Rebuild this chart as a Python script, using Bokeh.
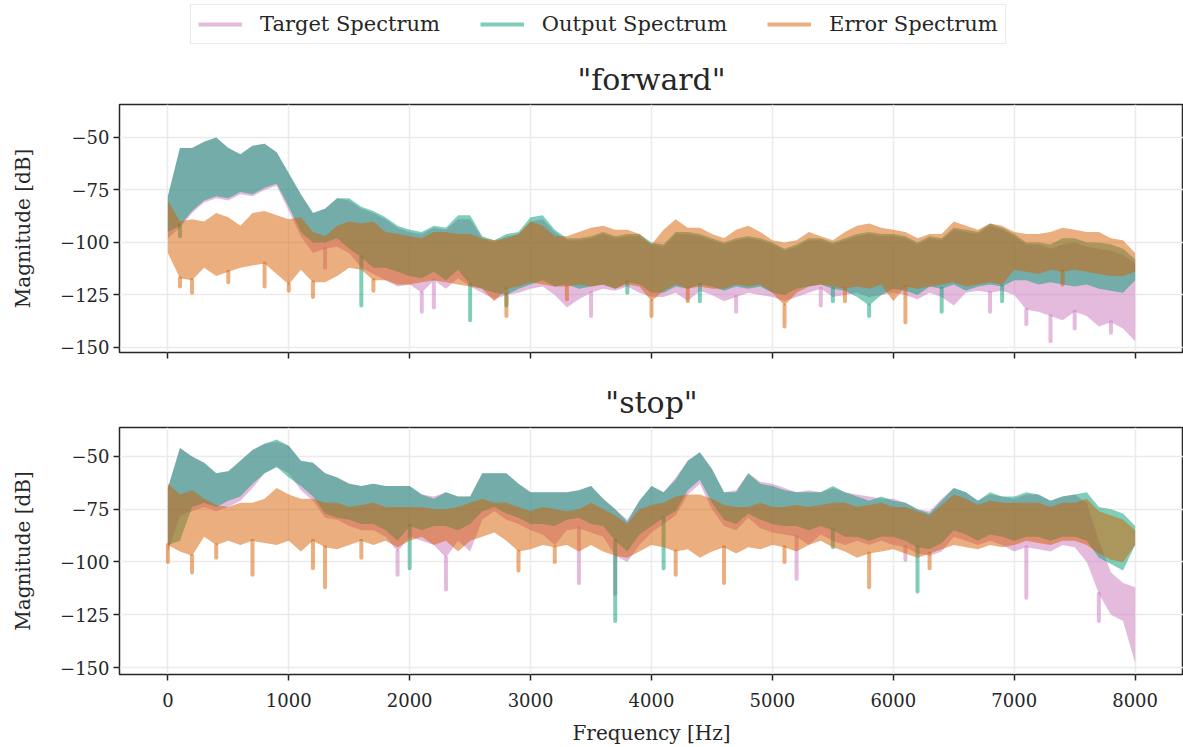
from bokeh.plotting import figure
from bokeh.layouts import column
from bokeh.models import (Legend, LegendItem, CustomJSTickFormatter, FixedTicker,
                          Range1d)
from bokeh.embed import file_html
from bokeh.resources import INLINE

# ---------------- data (100 Hz steps) ----------------
freq_hz = list(range(0, 8001, 100))

series_names = ["Target Spectrum", "Output Spectrum", "Error Spectrum"]
x_ticks = [0, 1000, 2000, 3000, 4000, 5000, 6000, 7000, 8000]
y_ticks = [-150, -125, -100, -75, -50]

# "forward" panel: upper / lower envelopes of each spectrum (dB)
fwd_target_hi = [-78, -55, -55, -52, -50, -55, -58, -54, -53, -57,
                 -67, -77, -86, -84, -79, -80, -84, -86, -89, -93,
                 -95, -96, -93, -94, -89, -89, -98, -100, -97, -96,
                 -90, -89, -95, -99, -99, -98, -96, -98, -97, -97,
                 -101, -102, -96, -96, -97, -99, -101, -99, -98, -99,
                 -101, -104, -102, -99, -99, -101, -99, -97, -96, -97,
                 -97, -98, -101, -98, -99, -94, -95, -96, -92, -94,
                 -97, -101, -101, -103, -101, -100, -102, -103, -104, -106,
                 -110]
fwd_target_lo = [-98, -93, -86, -81, -79, -80, -77, -78, -75, -73,
                 -85, -97, -105, -103, -102, -105, -112, -115, -118, -121,
                 -120, -124, -118, -122, -117, -121, -124, -127, -125, -124,
                 -122, -121, -125, -131, -127, -124, -122, -123, -121, -124,
                 -126, -126, -124, -128, -123, -125, -128, -126, -124, -125,
                 -126, -128, -126, -124, -122, -126, -125, -124, -126, -125,
                 -124, -125, -127, -124, -126, -130, -124, -123, -124, -123,
                 -125, -132, -133, -135, -137, -133, -135, -140, -138, -141,
                 -147]
fwd_output_hi = [-78, -55, -55, -52, -50, -55, -58, -54, -53, -57,
                 -67, -77, -86, -84, -79, -79, -83, -85, -88, -92,
                 -94, -95, -92, -93, -87, -87, -97, -99, -96, -95,
                 -88, -87, -94, -98, -98, -97, -95, -97, -96, -96,
                 -100, -101, -95, -95, -96, -98, -100, -98, -97, -98,
                 -100, -103, -101, -98, -98, -100, -98, -96, -95, -96,
                 -96, -97, -100, -97, -98, -93, -94, -95, -91, -93,
                 -96, -100, -100, -101, -98, -98, -100, -100, -101, -103,
                 -108]
fwd_output_lo = [-95, -92, -85, -80, -78, -79, -76, -77, -74, -72,
                 -83, -95, -100, -100, -98, -103, -107, -112, -112, -114,
                 -116, -117, -114, -118, -113, -120, -122, -124, -125, -122,
                 -120, -118, -121, -120, -122, -121, -120, -122, -119, -120,
                 -124, -124, -121, -122, -120, -121, -123, -121, -122, -121,
                 -124, -125, -122, -121, -120, -122, -123, -126, -130, -125,
                 -122, -123, -125, -121, -122, -120, -123, -121, -120, -121,
                 -118, -118, -120, -119, -120, -121, -120, -122, -123, -124,
                 -118]
fwd_error_hi = [-80, -90, -89, -90, -86, -88, -92, -86, -85, -87,
                -89, -88, -95, -97, -92, -90, -91, -90, -95, -96,
                -97, -98, -95, -95, -96, -96, -98, -99, -98, -96,
                -90, -92, -97, -97, -95, -93, -92, -94, -94, -96,
                -101, -94, -89, -93, -93, -96, -98, -94, -92, -95,
                -99, -100, -99, -95, -97, -99, -95, -92, -91, -93,
                -94, -95, -98, -96, -96, -90, -92, -94, -91, -92,
                -95, -96, -96, -95, -93, -94, -95, -95, -98, -99,
                -105]
fwd_error_lo = [-105, -117, -118, -112, -116, -114, -112, -111, -110, -115,
                -120, -113, -119, -119, -116, -112, -113, -118, -118, -120,
                -120, -119, -118, -119, -120, -121, -122, -128, -122, -121,
                -119, -120, -121, -121, -120, -121, -120, -122, -120, -121,
                -128, -123, -120, -122, -121, -122, -122, -120, -121, -120,
                -124, -130, -124, -121, -120, -121, -122, -121, -122, -120,
                -128, -121, -122, -121, -120, -119, -121, -120, -119, -120,
                -113, -114, -115, -113, -114, -113, -114, -115, -116, -116,
                -114]

# narrow deep dips below the envelopes (frequency, dB)
fwd_target_dip_hz = [1300, 2100, 2200, 3500, 4700, 5400, 6800, 7100, 7300, 7500, 7800]
fwd_target_dip_db = [-112, -133, -131, -135, -133, -130, -133, -139, -147, -141, -143]
fwd_output_dip_hz = [100, 1600, 2500, 2800, 3800, 4400, 5500, 5800, 6400, 6900]
fwd_output_dip_db = [-97, -130, -137, -130, -124, -128, -128, -135, -133, -128]
fwd_error_dip_hz = [100, 200, 500, 800, 1000, 1200, 1700, 2800, 3300, 4000,
                    4300, 5100, 5600, 6100, 7400]
fwd_error_dip_db = [-121, -124, -119, -121, -123, -126, -123, -135, -127, -135,
                    -128, -140, -128, -138, -120]

# "stop" panel
stop_target_hi = [-65, -46, -50, -53, -58, -57, -52, -47, -44, -43,
                  -45, -52, -53, -58, -60, -63, -64, -63, -64, -64,
                  -64, -68, -69, -67, -69, -69, -58, -58, -58, -63,
                  -67, -67, -67, -67, -66, -64, -70, -75, -80, -71,
                  -64, -67, -60, -52, -48, -56, -67, -66, -58, -62,
                  -63, -65, -67, -66, -67, -65, -67, -68, -69, -70,
                  -70, -72, -75, -76, -70, -65, -67, -71, -68, -69,
                  -70, -68, -68, -71, -69, -68, -72, -90, -105, -110,
                  -112]
stop_target_lo = [-95, -78, -76, -74, -76, -74, -71, -65, -58, -55,
                  -58, -66, -71, -79, -80, -83, -85, -85, -88, -95,
                  -88, -90, -92, -98, -90, -95, -80, -76, -80, -82,
                  -85, -87, -92, -85, -84, -86, -88, -97, -100, -92,
                  -86, -82, -78, -68, -63, -75, -83, -85, -79, -84,
                  -86, -87, -88, -92, -87, -90, -92, -90, -92, -90,
                  -92, -93, -96, -97, -95, -88, -90, -92, -90, -92,
                  -95, -93, -94, -95, -92, -93, -100, -115, -125, -128,
                  -148]
stop_output_hi = [-65, -46, -50, -53, -58, -57, -52, -47, -44, -42,
                  -45, -52, -53, -58, -60, -63, -64, -63, -64, -64,
                  -64, -68, -70, -67, -69, -69, -58, -58, -58, -63,
                  -67, -67, -67, -67, -66, -64, -70, -75, -81, -71,
                  -64, -67, -61, -52, -48, -56, -67, -67, -58, -63,
                  -64, -66, -67, -67, -67, -64, -67, -69, -71, -69,
                  -71, -72, -75, -77, -71, -65, -67, -71, -67, -69,
                  -69, -67, -68, -71, -69, -68, -67, -74, -75, -77,
                  -83]
stop_output_lo = [-92, -90, -74, -72, -74, -71, -69, -63, -58, -55,
                  -60, -64, -69, -77, -79, -80, -82, -82, -85, -90,
                  -83, -85, -83, -83, -85, -82, -76, -74, -77, -79,
                  -82, -82, -83, -80, -79, -82, -83, -90, -95, -87,
                  -83, -79, -76, -66, -61, -72, -80, -82, -77, -80,
                  -82, -83, -83, -85, -83, -85, -88, -88, -90, -88,
                  -88, -90, -93, -94, -91, -85, -87, -90, -87, -88,
                  -90, -88, -88, -90, -88, -88, -90, -98, -101, -104,
                  -92]
stop_error_hi = [-63, -68, -66, -70, -73, -74, -72, -72, -70, -65,
                 -68, -70, -70, -72, -72, -74, -73, -72, -74, -74,
                 -74, -74, -75, -75, -74, -72, -70, -72, -72, -74,
                 -76, -74, -75, -76, -75, -72, -75, -78, -82, -75,
                 -73, -72, -69, -68, -68, -70, -73, -74, -74, -72,
                 -74, -74, -73, -74, -73, -72, -72, -74, -73, -72,
                 -74, -74, -76, -78, -73, -68, -70, -73, -71, -72,
                 -72, -72, -72, -74, -72, -72, -70, -76, -78, -80,
                 -85]
stop_error_lo = [-92, -95, -97, -88, -92, -90, -92, -90, -91, -92,
                 -90, -95, -90, -93, -94, -92, -90, -92, -90, -93,
                 -90, -88, -92, -90, -95, -90, -88, -86, -90, -95,
                 -94, -92, -93, -92, -95, -92, -95, -97, -98, -95,
                 -92, -93, -95, -94, -98, -95, -93, -96, -93, -94,
                 -92, -93, -95, -92, -90, -93, -95, -98, -96, -95,
                 -94, -96, -98, -96, -94, -92, -93, -94, -92, -93,
                 -92, -90, -91, -92, -90, -90, -92, -96, -99, -100,
                 -92]

stop_target_dip_hz = [1900, 2300, 3400, 3700, 5200, 6100, 7100, 7700]
stop_target_dip_db = [-106, -113, -110, -115, -108, -99, -117, -128]
stop_output_dip_hz = [2000, 3700, 4100, 5500, 6200]
stop_output_dip_db = [-103, -128, -103, -93, -114]
stop_error_dip_hz = [0, 200, 400, 700, 1200, 1300, 1600, 2900, 3200, 4200,
                     4600, 5100, 5800, 6300]
stop_error_dip_db = [-100, -105, -98, -106, -103, -112, -98, -104, -100, -106,
                     -110, -100, -112, -103]

# ---------------- styling ----------------
COLORS = ["#cc78bc", "#029e73", "#d55e00"]
ALPHA = 0.5
FONT = "DejaVu Serif"
INK = "#262626"
GRID = "#ebebeb"

minus_fmt = CustomJSTickFormatter(code="return (tick < 0 ? '\\u2212' : '') + Math.abs(tick);")
blank_fmt = CustomJSTickFormatter(code="return '';")


def make_panel(title, bands, dips, y_lim, show_x, height, border_bottom):
    p = figure(width=1183, height=height, x_range=Range1d(-400, 8400),
               y_range=Range1d(*y_lim), output_backend="svg",
               toolbar_location=None, min_border_left=119, min_border_right=0,
               min_border_top=54, min_border_bottom=border_bottom)
    p.title.text = title
    p.title.align = "center"
    p.title.text_font = FONT
    p.title.text_font_size = "30px"
    p.title.text_font_style = "normal"
    p.title.text_color = INK
    p.title.standoff = 15

    for (lo, hi), (dhz, ddb), col in zip(bands, dips, COLORS):
        p.varea(x=freq_hz, y1=lo, y2=hi, fill_color=col, fill_alpha=ALPHA)
        start = [lo[freq_hz.index(h)] for h in dhz]
        p.segment(x0=dhz, y0=start, x1=dhz, y1=ddb, line_color=col,
                  line_alpha=ALPHA, line_width=4, line_cap="round")

    p.outline_line_color = INK
    p.outline_line_width = 1.5

    p.xaxis.ticker = FixedTicker(ticks=x_ticks)
    p.yaxis.ticker = FixedTicker(ticks=y_ticks)
    p.xgrid.ticker = FixedTicker(ticks=x_ticks)
    p.ygrid.ticker = FixedTicker(ticks=y_ticks)
    p.grid.grid_line_color = GRID
    p.grid.grid_line_width = 1.5
    p.yaxis.formatter = minus_fmt
    for ax in (p.xaxis[0], p.yaxis[0]):
        ax.axis_line_color = None
        ax.major_tick_line_color = INK
        ax.major_tick_line_width = 1.5
        ax.major_tick_out = 6
        ax.major_tick_in = 0
        ax.minor_tick_line_color = None
        ax.major_label_text_font = FONT
        ax.major_label_text_font_size = "18px"
        ax.major_label_text_color = INK
        ax.axis_label_text_font = FONT
        ax.axis_label_text_font_size = "20px"
        ax.axis_label_text_font_style = "normal"
        ax.axis_label_text_color = INK
    p.yaxis.axis_label = "Magnitude [dB]"
    p.yaxis.major_label_standoff = 4
    p.yaxis.axis_label_standoff = 22
    if show_x:
        p.xaxis.axis_label = "Frequency [Hz]"
        p.xaxis.major_label_standoff = 12
        p.xaxis.axis_label_standoff = 11
    else:
        p.xaxis.formatter = blank_fmt
        p.xaxis.major_label_standoff = 0
    return p


top = make_panel('"forward"',
                 [(fwd_target_lo, fwd_target_hi), (fwd_output_lo, fwd_output_hi),
                  (fwd_error_lo, fwd_error_hi)],
                 [(fwd_target_dip_hz, fwd_target_dip_db),
                  (fwd_output_dip_hz, fwd_output_dip_db),
                  (fwd_error_dip_hz, fwd_error_dip_db)],
                 (-152.4, -34.3), False, 323, 21)
bot = make_panel('"stop"',
                 [(stop_target_lo, stop_target_hi), (stop_output_lo, stop_output_hi),
                  (stop_error_lo, stop_error_hi)],
                 [(stop_target_dip_hz, stop_target_dip_db),
                  (stop_output_dip_hz, stop_output_dip_db),
                  (stop_error_dip_hz, stop_error_dip_db)],
                 (-153.3, -36.3), True, 374, 72)

# ---------------- legend strip ----------------
leg = figure(width=1183, height=50, x_range=Range1d(0, 1), y_range=Range1d(0, 1),
             output_backend="svg", toolbar_location=None, min_border=0)
leg.axis.visible = False
leg.grid.visible = False
leg.outline_line_color = None
items = []
for name, col in zip(series_names, COLORS):
    # drawn outside the visible range: only the legend swatch shows
    r = leg.line(x=[5, 6], y=[5, 6], line_color=col, line_alpha=ALPHA, line_width=4)
    items.append(LegendItem(label=name, renderers=[r]))
legend = Legend(items=items, orientation="horizontal", location=(71, 6),
                label_text_font=FONT, label_text_font_size="21px",
                label_text_color=INK, glyph_width=44, glyph_height=20,
                label_standoff=18, spacing=40, padding=7, margin=0,
                border_line_color="#d6d6d6", border_line_width=1.5,
                background_fill_color="white")
leg.add_layout(legend, "center")

layout = column(leg, top, bot, spacing=0)

with open("out.html", "w") as f:
    f.write(file_html(layout, INLINE))
